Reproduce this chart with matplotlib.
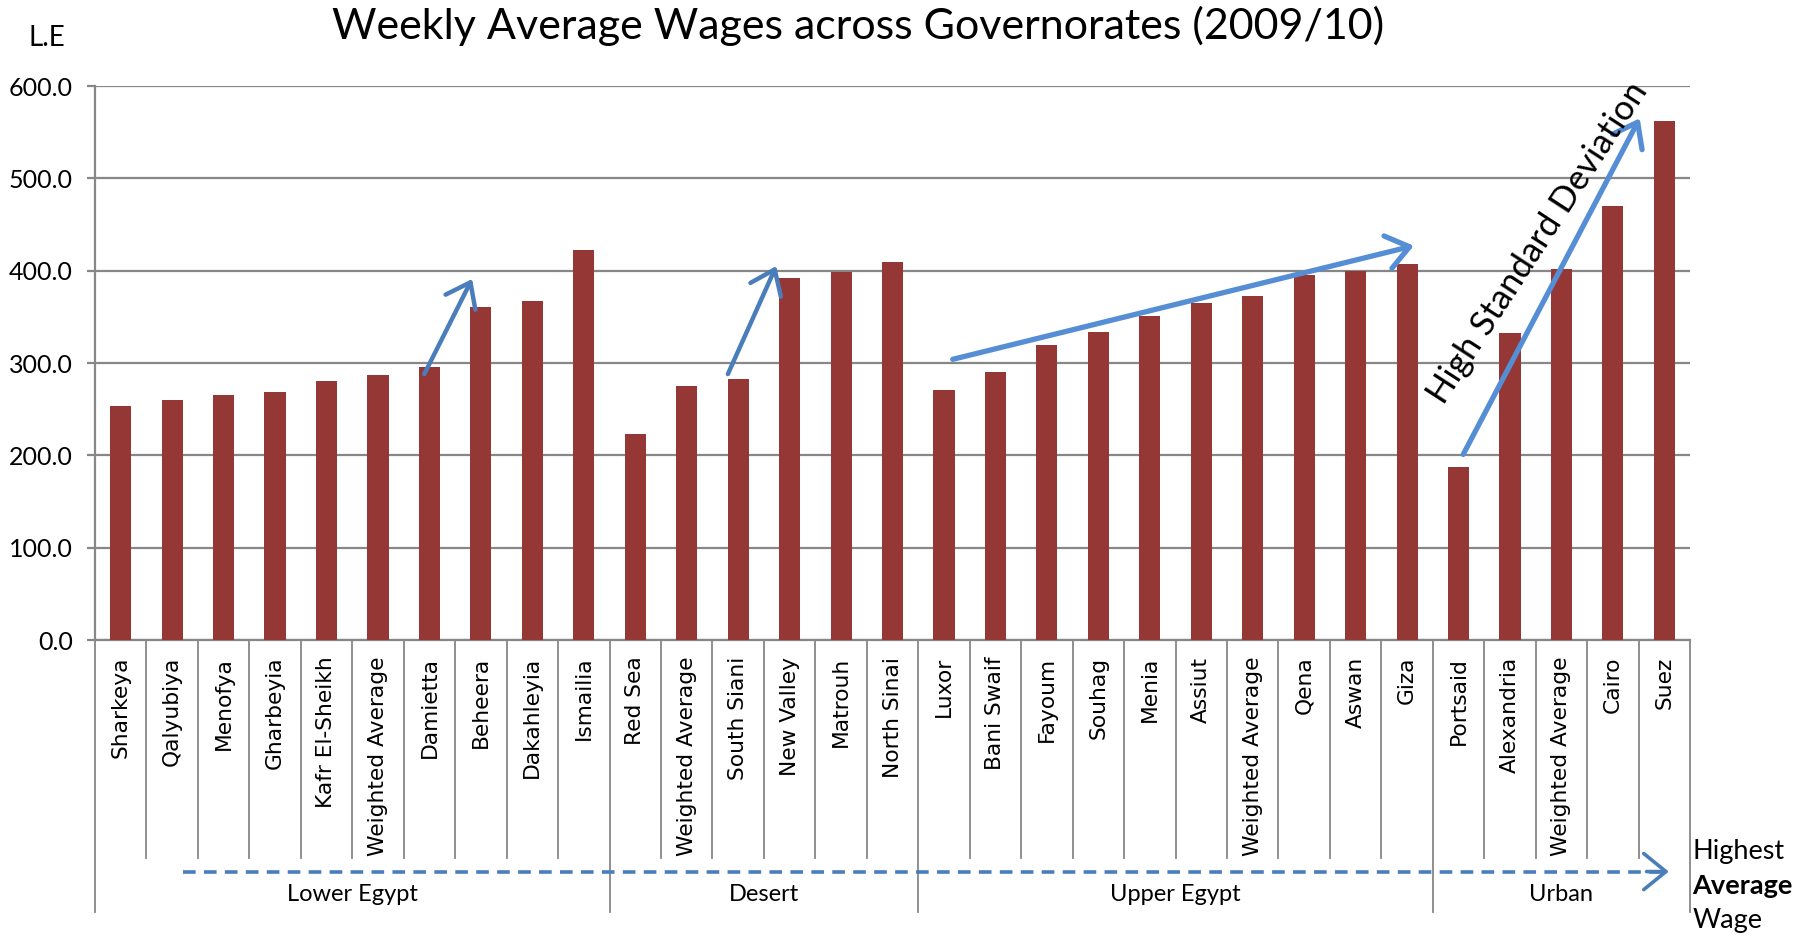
import matplotlib
matplotlib.use("Agg")
import matplotlib.pyplot as plt

# Weekly average wages (L.E) by governorate, 2009/10
governorates = [
    "Sharkeya", "Qalyubiya", "Menofya", "Gharbeyia", "Kafr El-Sheikh",
    "Weighted Average", "Damietta", "Beheera", "Dakahleyia", "Ismailia",
    "Red Sea", "Weighted Average", "South Siani", "New Valley", "Matrouh",
    "North Sinai",
    "Luxor", "Bani Swaif", "Fayoum", "Souhag", "Menia", "Assiut",
    "Weighted Average", "Qena", "Aswan", "Giza",
    "Portsaid", "Alexandria", "Weighted Average", "Cairo", "Suez",
]
wages = [
    253.2, 260.4, 265.4, 268.7, 280.6, 287.1, 295.7, 360.6, 367.1, 422.3,
    223.3, 274.6, 282.2, 392.3, 398.1, 409.0,
    271.0, 290.8, 319.4, 333.5, 350.4, 364.9, 373.1, 395.5, 399.3, 407.1,
    187.0, 332.1, 401.3, 469.7, 561.8,
]
regions = ["Lower Egypt", "Desert", "Upper Egypt", "Urban"]
region_sizes = [10, 6, 10, 5]
y_ticks = [0, 100, 200, 300, 400, 500, 600]

BAR = "#953735"
GRID = "#878787"
BLUE_DARK = "#4a7ebb"
BLUE_LIGHT = "#558ed5"
SANS = ["Lato", "DejaVu Sans"]

fig = plt.figure(figsize=(17.98, 9.35), dpi=100)
ax = fig.add_axes([0.0528, 0.3155, 0.8872, 0.5925])

x = list(range(len(wages)))
ax.bar(x, wages, width=0.41, color=BAR, zorder=3)

ax.set_xlim(-0.5, len(wages) - 0.5)
ax.set_ylim(0, 600)
ax.set_yticks(y_ticks)
ax.set_yticklabels([f"{v:.1f}" for v in y_ticks], family=SANS, fontsize=18)
ax.yaxis.grid(True, color=GRID, lw=1.6, zorder=0)
ax.tick_params(axis="y", length=6, width=1.6, color=GRID, pad=10)

ax.set_xticks(x)
ax.set_xticklabels(governorates, rotation=90, va="top", ha="center",
                   family="DejaVu Sans", fontsize=15.7)
ax.tick_params(axis="x", length=0, pad=12)

for side in ("top", "right"):
    ax.spines[side].set_visible(False)
for side in ("left", "bottom"):
    ax.spines[side].set_color(GRID)
    ax.spines[side].set_linewidth(1.6)

# category separators below the axis; region boundaries run further down
xt = ax.get_xaxis_transform()
bounds = [-0.5]
acc = -0.5
for n in region_sizes:
    acc += n
    bounds.append(acc)
for i in range(len(wages) + 1):
    xb = i - 0.5
    y_end = -0.491 if xb in bounds else -0.3936
    ax.plot([xb, xb], [0, y_end], transform=xt, color=GRID, lw=1.3,
            clip_on=False, zorder=1)

start = -0.5
for name, n in zip(regions, region_sizes):
    ax.text(start + n / 2, -0.46, name, transform=xt, ha="center",
            va="center", family=SANS, fontsize=17)
    start += n

# dashed arrow along the bottom pointing to the highest average wage
ax.plot([1.22, 30.05], [-0.418, -0.418], transform=xt, color=BLUE_DARK,
        lw=2.6, linestyle=(0, (3.5, 2.3)), clip_on=False)
ax.annotate("", xy=(30.14, -0.418), xytext=(29.6, -0.418), xycoords=xt,
            textcoords=xt, annotation_clip=False,
            arrowprops=dict(arrowstyle="->,head_length=0.8,head_width=0.65",
                            color=BLUE_DARK, lw=2.6, mutation_scale=20))

fig.text(0.9413, 0.0898, "Highest", family=SANS, fontsize=19.5,
         va="center", ha="left")
fig.text(0.9413, 0.0524, "Average", family=SANS, fontsize=19.5,
         fontweight="bold", va="center", ha="left")
fig.text(0.9413, 0.015, "Wage", family=SANS, fontsize=19.5,
         va="center", ha="left")

# trend arrows inside the plot
trend_arrows = [
    ((5.90, 288), (6.83, 391), BLUE_DARK, 3.2),
    ((11.80, 288), (12.74, 405), BLUE_DARK, 3.2),
    ((16.17, 304), (25.13, 427), BLUE_LIGHT, 3.8),
    ((26.09, 201), (29.52, 565), BLUE_LIGHT, 3.8),
]
for (x0, y0), (x1, y1), col, lw in trend_arrows:
    ax.annotate("", xy=(x1, y1), xytext=(x0, y0), annotation_clip=False,
                arrowprops=dict(arrowstyle="->,head_length=0.8,head_width=0.6",
                                color=col, lw=lw, mutation_scale=20,
                                shrinkA=0, shrinkB=0),
                zorder=5)

ax.text(27.55, 430, "High Standard Deviation", rotation=57,
        rotation_mode="anchor", ha="center", va="center",
        family=SANS, fontsize=25, zorder=6)

fig.text(0.477, 0.972, "Weekly Average Wages across Governorates (2009/10)",
         ha="center", va="center", family=SANS, fontsize=31)
fig.text(0.026, 0.959, "L.E", ha="center", va="center", family=SANS,
         fontsize=20)

fig.savefig("out.png", dpi=100)
